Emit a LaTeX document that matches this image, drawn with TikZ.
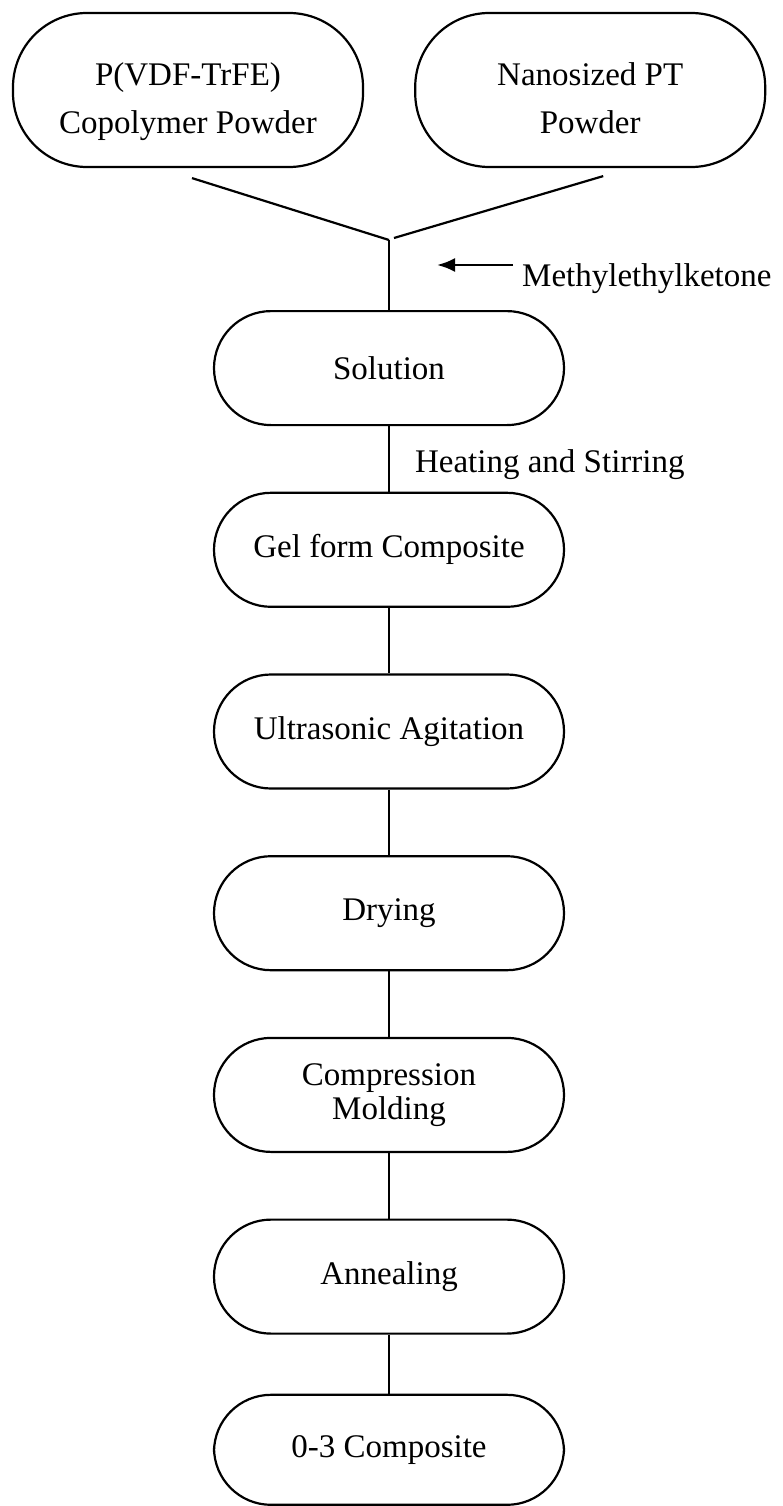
\documentclass[tikz,border=0pt]{standalone}
\usepackage{fontspec}
\setmainfont{Liberation Serif}
\usetikzlibrary{arrows.meta, positioning}
\tikzset{
    >=Latex,
    font=\fontsize{33}{48}\selectfont,
    node distance=65.5pt,
    flow_source/.style={
        rectangle,
        rounded corners=74pt,
        draw=black,
        line width=2.2pt,
        minimum width=350pt,
        minimum height=154pt,
        align=center
    },
    flow_step/.style={
        rectangle,
        rounded corners=57pt,
        draw=black,
        line width=2.2pt,
        minimum width=350pt,
        minimum height=114pt,
        align=center
    },
    flow_link/.style={
        line width=2.2pt
    },
    flow_feed/.style={
        -{Latex[length=18pt, width=14pt]},
        line width=2.6pt
    },
    flow_note/.style={
        inner sep=0pt,
        anchor=west
    }
}
% struts that keep the two-line source labels a bit low in their boxes
\newcommand{\lowline}{\rule{0pt}{49pt}}
\newcommand{\deepline}{\rule[-9pt]{0pt}{9pt}}

\begin{document}
\begin{tikzpicture}[x=1pt, y=1pt]
\useasboundingbox (0,0) rectangle (783,-1506);

% Starting materials
\node[flow_source] (Copolymer) at (188,-90) {\lowline P(VDF-TrFE)\\Copolymer Powder\deepline};
\node[flow_source, right=50pt of Copolymer] (Filler) {\lowline Nanosized PT\\Powder\deepline};

% Mixing point and solvent feed
\coordinate (Mix) at (389,-240);
\coordinate (CopolymerEnd) at ([xshift=4pt, yshift=-10pt]Copolymer.south);
\coordinate (FillerEnd) at ([xshift=13pt, yshift=-8pt]Filler.south);
\coordinate (FillerJoin) at ([xshift=5pt, yshift=2pt]Mix);
\node[flow_note] (Solvent) at (522,-279) {Methylethylketone};
\coordinate[above left=14pt and 9pt of Solvent.west] (SolventTail);
\coordinate[left=76pt of SolventTail] (SolventTip);

% Process steps
\node[flow_step, below=70pt of Mix] (Solution) {Solution};
\node[flow_step, below=of Solution] (Gel) {Gel form Composite};
\node[flow_step, below=of Gel] (Ultrasonic) {Ultrasonic Agitation};
\node[flow_step, below=of Ultrasonic] (Drying) {Drying};
\node[flow_step, below=of Drying, font=\fontsize{33}{34}\selectfont] (Molding) {Compression\\Molding};
\node[flow_step, below=of Molding] (Annealing) {Annealing};
\node[flow_step, below=59pt of Annealing, minimum height=110pt] (Composite) {0-3 Composite};

% Edges
\draw[flow_link] (CopolymerEnd) -- (Mix);
\draw[flow_link] (FillerEnd) -- (FillerJoin);
\draw[flow_link] (Mix) -- (Solution);
\draw[flow_feed] (SolventTail) -- (SolventTip);
\draw[flow_link] (Solution) -- node[flow_note, xshift=25pt, yshift=-6pt] (Heating) {Heating and Stirring} (Gel);
\draw[flow_link] (Gel) -- (Ultrasonic);
\draw[flow_link] (Ultrasonic) -- (Drying);
\draw[flow_link] (Drying) -- (Molding);
\draw[flow_link] (Molding) -- (Annealing);
\draw[flow_link] (Annealing) -- (Composite);

\end{tikzpicture}
\end{document}
